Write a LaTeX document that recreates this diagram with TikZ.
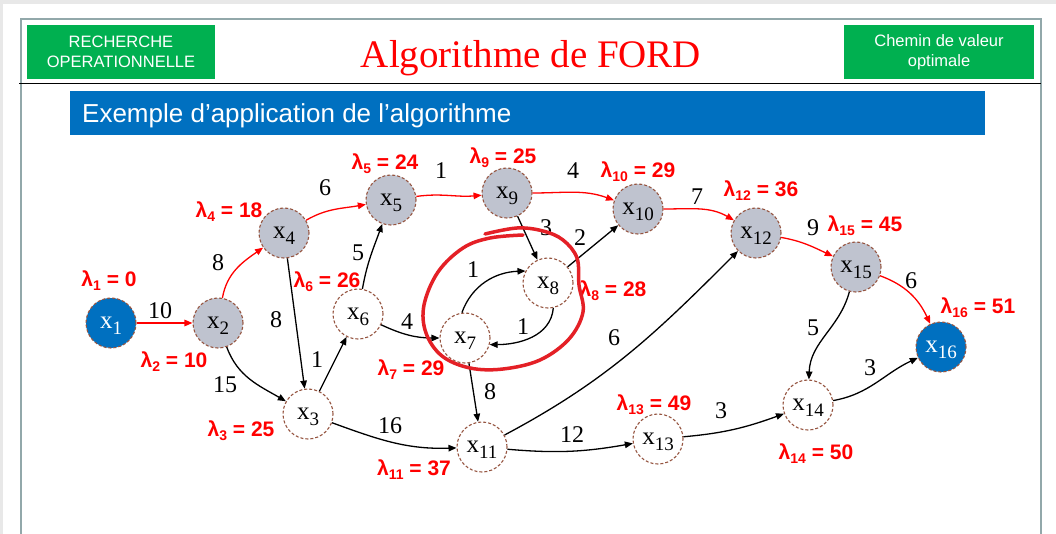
\documentclass[tikz,border=0pt]{standalone}
\usepackage{fontspec}
\setmainfont{Liberation Serif}
\newfontfamily\hsans{Liberation Sans}
\usetikzlibrary{arrows.meta}

\definecolor{nodegray}{RGB}{191,195,207}
\definecolor{nodeblue}{RGB}{0,112,192}
\definecolor{nodebrown}{RGB}{150,85,65}
\definecolor{hdrgreen}{RGB}{0,176,80}
\definecolor{framegray}{RGB}{146,168,170}
\definecolor{loopred}{RGB}{228,32,38}
\definecolor{lamred}{RGB}{255,0,0}
\definecolor{pagegray}{RGB}{232,232,232}

% vertex label x_i and red potential label lambda_i = v
\newcommand{\xnode}[1]{x\raisebox{-6pt}[0pt][0pt]{\fontsize{19}{19}\selectfont #1}}
\newcommand{\lam}[2]{λ\raisebox{-4pt}[0pt][0pt]{\fontsize{14}{14}\selectfont #1} = #2}

\tikzset{
  vtx/.style={circle, minimum size=50pt, inner sep=0pt, draw=nodebrown,
    dash pattern=on 3pt off 2pt, line width=1.1pt,
    font=\fontsize{25}{25}\selectfont},
  vgray/.style={vtx, fill=nodegray},
  vwhite/.style={vtx, fill=white},
  vblue/.style={vtx, fill=nodeblue, text=white},
  arc/.style={-{Triangle[length=8pt,width=6.5pt]}, line width=1.3pt, black},
  redarc/.style={arc, lamred},
  wt/.style={inner sep=0pt, font=\fontsize{24}{24}\selectfont},
  lamlbl/.style={inner sep=0pt, text=lamred, font=\hsans\bfseries\fontsize{21}{21}\selectfont},
  hdrbox/.style={text=white, align=center,
    font=\hsans\fontsize{16.5}{20}\selectfont}
}

\begin{document}
\begin{tikzpicture}[x=1pt,y=1pt]
\useasboundingbox (0,0) rectangle (1056,-534);

% page background and slide frame
\fill[pagegray] (0,0) rectangle (1056,-534);
\fill[white] (3,-4) rectangle (1056,-534);
\draw[framegray, line width=2pt] (20.5,-540) -- (20.5,-19.5) -- (1040.5,-19.5) -- (1040.5,-540);

% header
\fill[hdrgreen] (27,-25) rectangle (215,-79);
\node[hdrbox] (hleft) at (121,-52) {RECHERCHE\\OPERATIONNELLE};
\fill[hdrgreen] (844,-25) rectangle (1034,-79);
\node[hdrbox] (hright) at (939,-52) {Chemin de valeur\\optimale};
\node[anchor=base, text=red, inner sep=0pt, font=\fontsize{39}{39}\selectfont] (title) at (531,-68) {Algorithme de FORD};
\draw[black, line width=1.5pt] (19,-83.5) -- (1041,-83.5);

% section banner
\fill[nodeblue] (70,-91) rectangle (985,-135);
\node[anchor=base west, text=white, inner sep=0pt, font=\hsans\fontsize{26}{26}\selectfont] (banner) at (82,-123) {Exemple d’application de l’algorithme};

% vertices
\node[vblue]  (x1)  at (111,-323) {\xnode{1}};
\node[vgray]  (x2)  at (218,-323) {\xnode{2}};
\node[vwhite] (x3)  at (308,-414) {\xnode{3}};
\node[vgray]  (x4)  at (284,-233) {\xnode{4}};
\node[vgray]  (x5)  at (391,-200) {\xnode{5}};
\node[vwhite] (x6)  at (358,-314) {\xnode{6}};
\node[vwhite] (x7)  at (465,-338) {\xnode{7}};
\node[vwhite] (x8)  at (548,-283) {\xnode{8}};
\node[vgray]  (x9)  at (507,-193) {\xnode{9}};
\node[vgray]  (x10) at (638,-209) {\xnode{10}};
\node[vwhite] (x11) at (482,-447) {\xnode{11}};
\node[vgray]  (x12) at (756,-233) {\xnode{12}};
\node[vwhite] (x13) at (658,-439) {\xnode{13}};
\node[vwhite] (x14) at (808,-405) {\xnode{14}};
\node[vgray]  (x15) at (856,-267) {\xnode{15}};
\node[vblue]  (x16) at (941,-347) {\xnode{16}};

% optimal path (red)
\draw[redarc] (x1) -- (x2);
\draw[redarc] (x2) to[out=80, in=215] (x4);
\draw[redarc] (x4) to[out=30, in=190] (x5);
\draw[redarc] (x5) to[out=8, in=185] (x9);
\draw[redarc] (x9) to[out=0, in=160] (x10);
\draw[redarc] (x10) to[out=0, in=150] (x12);
\draw[redarc] (x12) to[out=-10, in=155] (x15);
\draw[redarc] (x15) to[out=-20, in=115] (x16);

% other arcs
\draw[arc] (x2) to[out=-70, in=150] (x3);
\draw[arc] (x4) -- (x3);
\draw[arc] (x3) -- (x6);
\draw[arc] (x6) to[out=80, in=250] (x5);
\draw[arc] (x6) to[out=-25, in=180] (x7);
\draw[arc] (x9) -- (x8);
\draw[arc] (x8) -- (x10);
\draw[arc] (x7.97) to[out=70, in=182] (x8.152);
\draw[arc] (x8.-78) to[out=-95, in=0] (x7.-15);
\draw[arc] (x7) -- (x11);
\draw[arc] (x3) to[out=-20, in=182] (x11);
\draw[arc] (x11) to[out=28, in=225] (x12);
\draw[arc] (x11) to[out=-5, in=190] (x13);
\draw[arc] (x13) to[out=5, in=200] (x14);
\draw[arc] (x15) to[out=-105, in=88] (x14);
\draw[arc] (x14) to[out=10, in=205] (x16);

% arc weights
\node[wt] (w12)   at (160,-311) {10};
\node[wt] (w24)   at (218,-263) {8};
\node[wt] (w45)   at (325,-188) {6};
\node[wt] (w43)   at (276,-320) {8};
\node[wt] (w65)   at (358,-253) {5};
\node[wt] (w59)   at (441,-171) {1};
\node[wt] (w910)  at (573,-171) {4};
\node[wt] (w98)   at (546,-228) {3};
\node[wt] (w810)  at (580,-238) {2};
\node[wt] (w78)   at (473,-270) {1};
\node[wt] (w87)   at (523,-327) {1};
\node[wt] (w67)   at (407,-322) {4};
\node[wt] (w1112) at (614,-338) {6};
\node[wt] (w1012) at (697,-197) {7};
\node[wt] (w1215) at (813,-228) {9};
\node[wt] (w1516) at (911,-281) {6};
\node[wt] (w1514) at (813,-328) {5};
\node[wt] (w1416) at (870,-368) {3};
\node[wt] (w23)   at (225,-385) {15};
\node[wt] (w36)   at (317,-360) {1};
\node[wt] (w311)  at (390,-426) {16};
\node[wt] (w711)  at (490,-392) {8};
\node[wt] (w1113) at (572,-435) {12};
\node[wt] (w1314) at (721,-411) {3};

% potentials
\node[lamlbl] (L1)  at (109,-279) {\lam{1}{0}};
\node[lamlbl] (L2)  at (174,-360) {\lam{2}{10}};
\node[lamlbl] (L3)  at (241,-429) {\lam{3}{25}};
\node[lamlbl] (L4)  at (229,-210) {\lam{4}{18}};
\node[lamlbl] (L5)  at (385,-162) {\lam{5}{24}};
\node[lamlbl] (L6)  at (327,-280) {\lam{6}{26}};
\node[lamlbl] (L7)  at (411,-368) {\lam{7}{29}};
\node[lamlbl] (L8)  at (613,-289) {\lam{8}{28}};
\node[lamlbl] (L9)  at (503,-156) {\lam{9}{25}};
\node[lamlbl] (L10) at (638,-170) {\lam{10}{29}};
\node[lamlbl] (L11) at (414,-468) {\lam{11}{37}};
\node[lamlbl] (L12) at (761,-189) {\lam{12}{36}};
\node[lamlbl] (L13) at (654,-403) {\lam{13}{49}};
\node[lamlbl] (L14) at (816,-452) {\lam{14}{50}};
\node[lamlbl] (L15) at (865,-224) {\lam{15}{45}};
\node[lamlbl] (L16) at (978,-306) {\lam{16}{51}};

% hand-drawn circuit around x7 and x8
\draw[loopred, line width=3.5pt, line cap=round, line join=round]
  plot[smooth, tension=0.6] coordinates {
    (523,-235) (490,-238) (463,-248) (438,-272) (424,-305) (426,-333)
    (442,-356) (470,-368) (503,-369) (540,-360) (569,-339) (583,-312)
    (579,-285) (577,-258) (563,-240) (543,-231) (517,-228) (485,-234)};
\end{tikzpicture}
\end{document}
